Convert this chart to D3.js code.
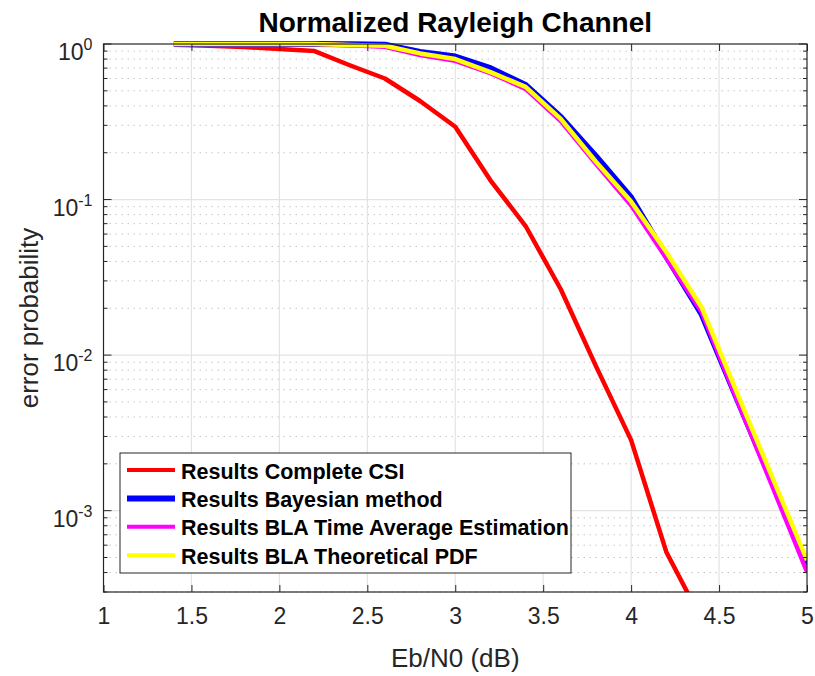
<!DOCTYPE html>
<html lang="en">
<head>
    <meta charset="UTF-8">
    <title>Normalized Rayleigh Channel</title>
    <script src="https://d3js.org/d3.v7.min.js"></script>
    <style>
        body { margin: 0; background: #fff; }
        text { font-family: "Liberation Sans", Arial, sans-serif; fill: #262626; }
    </style>
</head>
<body>
    <script>
    // data
    var ebn0 = [1.4, 1.6, 1.8, 2.0, 2.2, 2.4, 2.6, 2.8, 3.0, 3.2, 3.4, 3.6, 3.8, 4.0, 4.2, 4.4, 4.6, 4.8, 5.0];
    var csi = [0.99, 0.975, 0.955, 0.93, 0.90, 0.73, 0.60, 0.43, 0.294, 0.133, 0.0676, 0.0265, 0.0085, 0.00284, 0.000543, 0.0002, null, null, null];
    var bayes = [1, 1, 1, 1, 1, 0.995, 0.99, 0.89, 0.83, 0.70, 0.545, 0.34, 0.19, 0.103, 0.043, 0.0184, 0.0053, 0.00155, 0.00045];
    var blaTime = [1, 1, 1, 1, 1, 0.98, 0.96, 0.85, 0.78, 0.65, 0.515, 0.32, 0.17, 0.092, 0.042, 0.019, 0.0052, 0.00146, 0.000404];
    var blaPdf = [1, 1, 1, 1, 1, 0.985, 0.975, 0.87, 0.80, 0.66, 0.53, 0.33, 0.175, 0.097, 0.046, 0.0204, 0.0058, 0.00167, 0.00048];

    var seriesNames = ["Results Complete CSI", "Results Bayesian method", "Results BLA Time Average Estimation", "Results BLA Theoretical PDF"];
    var seriesColors = ["#ff0000", "#0000ff", "#ff00ff", "#ffff00"];
    var seriesWidths = [4.5, 6, 4.5, 4.5];
    var seriesValues = [csi, bayes, blaTime, blaPdf];

    var xTicks = [1, 1.5, 2, 2.5, 3, 3.5, 4, 4.5, 5];
    var yTicks = [1, 0.1, 0.01, 0.001];

    var width = 815, height = 676;
    var pL = 103.5, pR = 807, pT = 44, pB = 592;

    var svg = d3.select("body").append("svg")
        .attr("width", width)
        .attr("height", height);

    var x = d3.scaleLinear().domain([1, 5]).range([pL, pR]);
    var y = d3.scaleLog().domain([3e-4, 1]).range([pB, pT]);

    // minor log values inside the domain
    var yMinor = [];
    [-4, -3, -2, -1].forEach(function(e) {
        for (var k = 2; k <= 9; k++) {
            var v = k * Math.pow(10, e);
            if (v >= 3e-4 && v < 1) yMinor.push(v);
        }
    });

    // grid
    var grid = svg.append("g");
    grid.selectAll(".minor").data(yMinor).enter().append("line")
        .attr("x1", pL).attr("x2", pR)
        .attr("y1", function(d) { return y(d); })
        .attr("y2", function(d) { return y(d); })
        .attr("stroke", "#c4c4c4")
        .attr("stroke-width", 1)
        .attr("stroke-dasharray", "1.5,4.5");
    grid.selectAll(".majx").data(xTicks.slice(1, -1)).enter().append("line")
        .attr("x1", function(d) { return x(d); })
        .attr("x2", function(d) { return x(d); })
        .attr("y1", pT).attr("y2", pB)
        .attr("stroke", "#e3e3e3").attr("stroke-width", 1.2);
    grid.selectAll(".majy").data(yTicks.slice(1)).enter().append("line")
        .attr("x1", pL).attr("x2", pR)
        .attr("y1", function(d) { return y(d); })
        .attr("y2", function(d) { return y(d); })
        .attr("stroke", "#e3e3e3").attr("stroke-width", 1.2);

    // lines
    svg.append("clipPath").attr("id", "plotclip")
        .append("rect").attr("x", pL).attr("y", pT - 3)
        .attr("width", pR - pL).attr("height", pB - pT + 3);

    var line = d3.line()
        .defined(function(d) { return d[1] != null; })
        .x(function(d) { return x(d[0]); })
        .y(function(d) { return y(d[1]); });

    var plot = svg.append("g").attr("clip-path", "url(#plotclip)");
    seriesValues.forEach(function(vals, i) {
        plot.append("path")
            .datum(ebn0.map(function(e, j) { return [e, vals[j]]; }))
            .attr("d", line)
            .attr("fill", "none")
            .attr("stroke", seriesColors[i])
            .attr("stroke-width", seriesWidths[i])
            .attr("stroke-linejoin", "round");
    });

    // axes (MATLAB style: ticks inside, box on)
    var axisColor = "#262626";
    var axes = svg.append("g");

    axes.append("g").attr("transform", "translate(0," + pB + ")")
        .call(d3.axisBottom(x).tickValues(xTicks).tickSizeInner(-7).tickSizeOuter(0).tickPadding(16).tickFormat(d3.format("")))
        .call(function(g) {
            g.select(".domain").remove();
            g.selectAll("line").attr("stroke", axisColor);
            g.selectAll("text").attr("font-size", 23).attr("font-family", null).attr("fill", axisColor);
        });
    axes.append("g").attr("transform", "translate(0," + pT + ")")
        .call(d3.axisTop(x).tickValues(xTicks).tickSizeInner(-7).tickSizeOuter(0).tickFormat(""))
        .call(function(g) {
            g.select(".domain").remove();
            g.selectAll("line").attr("stroke", axisColor);
        });

    [pL, pR].forEach(function(px, side) {
        var dir = side === 0 ? 1 : -1;
        axes.selectAll(null).data(yTicks).enter().append("line")
            .attr("x1", px).attr("x2", px + dir * 8)
            .attr("y1", function(d) { return y(d); })
            .attr("y2", function(d) { return y(d); })
            .attr("stroke", axisColor);
        axes.selectAll(null).data(yMinor).enter().append("line")
            .attr("x1", px).attr("x2", px + dir * 4)
            .attr("y1", function(d) { return y(d); })
            .attr("y2", function(d) { return y(d); })
            .attr("stroke", axisColor);
    });

    axes.append("rect")
        .attr("x", pL).attr("y", pT)
        .attr("width", pR - pL).attr("height", pB - pT)
        .attr("fill", "none").attr("stroke", axisColor).attr("stroke-width", 1.2);

    // y tick labels 10^n
    var ylab = axes.selectAll(".ylab").data(yTicks).enter().append("text")
        .attr("x", pL - 11)
        .attr("y", function(d) { return y(d) + 16; })
        .attr("text-anchor", "end")
        .attr("font-size", 23);
    ylab.append("tspan").text("10");
    ylab.append("tspan").attr("dy", -10).attr("font-size", 16)
        .text(function(d) { return Math.round(Math.log10(d)); });

    // title and labels
    svg.append("text")
        .attr("x", (pL + pR) / 2).attr("y", 32)
        .attr("text-anchor", "middle")
        .attr("font-size", 28).attr("font-weight", "bold")
        .style("fill", "#000")
        .text("Normalized Rayleigh Channel");

    svg.append("text")
        .attr("x", (pL + pR) / 2).attr("y", 667)
        .attr("text-anchor", "middle")
        .attr("font-size", 26)
        .text("Eb/N0 (dB)");

    svg.append("text")
        .attr("transform", "translate(38," + ((pT + pB) / 2) + ") rotate(-90)")
        .attr("text-anchor", "middle")
        .attr("font-size", 26)
        .text("error probability");

    // legend
    var lg = svg.append("g").attr("transform", "translate(120,453)");
    lg.append("rect")
        .attr("width", 451).attr("height", 120)
        .attr("fill", "#fff").attr("stroke", axisColor).attr("stroke-width", 1);
    var item = lg.selectAll(".item").data(seriesNames).enter().append("g")
        .attr("transform", function(d, i) { return "translate(0," + (17 + i * 28.4) + ")"; });
    item.append("line")
        .attr("x1", 7).attr("x2", 55)
        .attr("stroke", function(d, i) { return seriesColors[i]; })
        .attr("stroke-width", function(d, i) { return i === 1 ? 6 : 4; });
    item.append("text")
        .attr("x", 61).attr("y", 8.5)
        .attr("font-size", 21.5).attr("font-weight", "bold")
        .style("fill", "#000")
        .text(function(d) { return d; });
    </script>
</body>
</html>
